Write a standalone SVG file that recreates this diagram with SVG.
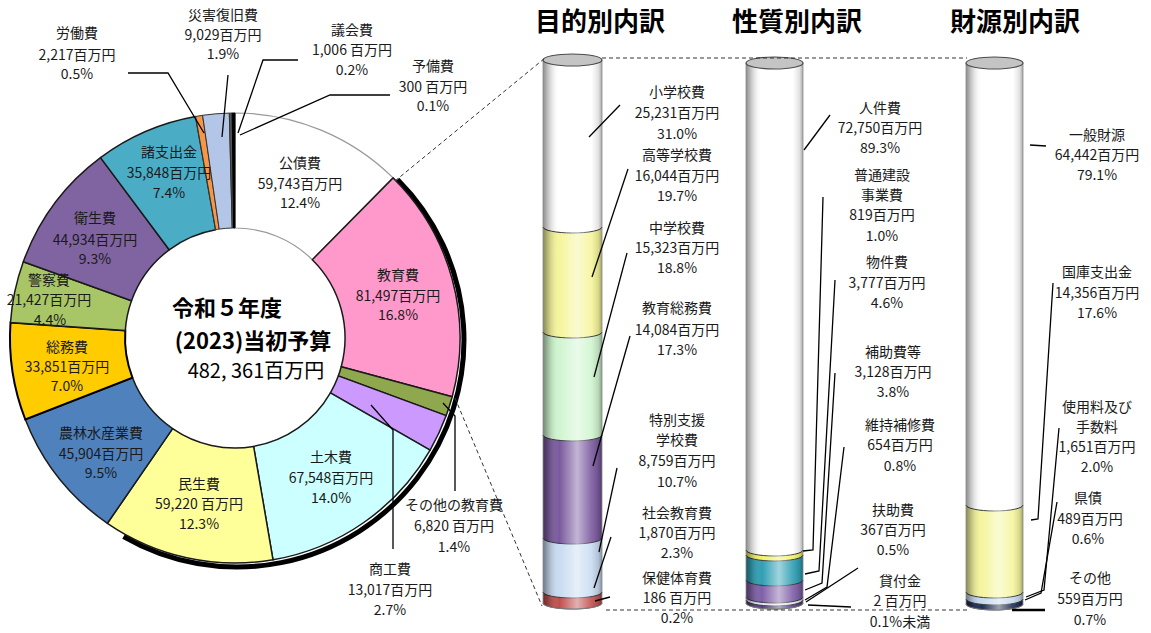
<svg xmlns="http://www.w3.org/2000/svg" width="1151" height="633" viewBox="0 0 1151 633">
<defs>
<linearGradient id="shade" x1="0" y1="0" x2="1" y2="0">
<stop offset="0" stop-color="#000" stop-opacity="0.45"/>
<stop offset="0.08" stop-color="#000" stop-opacity="0.25"/>
<stop offset="0.28" stop-color="#fff" stop-opacity="0"/>
<stop offset="0.58" stop-color="#fff" stop-opacity="0.55"/>
<stop offset="0.82" stop-color="#fff" stop-opacity="0.1"/>
<stop offset="0.94" stop-color="#000" stop-opacity="0.12"/>
<stop offset="1" stop-color="#000" stop-opacity="0.35"/>
</linearGradient>
</defs>
<style>
text{font-family:"Noto Sans CJK JP","Noto Sans",sans-serif;fill:#1a1a1a}
.lb{font-size:14px;text-anchor:middle}
.ttl{font-size:26px;font-weight:bold;fill:#000}
.sl{stroke:#1a1a1a;stroke-width:1.5;stroke-linejoin:round}
.ld{stroke:#000;stroke-width:1.3;fill:none}
.dash{stroke:#333;stroke-width:1;stroke-dasharray:4 3;fill:none}
.bnd{stroke:#333;stroke-width:1;fill:none}
.cap{fill:#c4c4c4;stroke:#4a4a4a;stroke-width:1.2}
.body{fill:url(#shade);stroke:#8a8a8a;stroke-width:0.8}
.ctr{text-anchor:middle;fill:#000}
</style>
<rect width="1151" height="633" fill="#fff"/>

<g id="donut">
<path d="M397.5,179.5 A227,227 0 0 1 123.5,536.6" fill="none" stroke="#000" stroke-width="5"/>
<g id="s-kosai"><path d="M235,113 A225,225 0 0 1 393.1,177.9 L312.3,259.7 A110,110 0 0 0 235,228 Z" fill="#fff" stroke="#999" stroke-width="1.2"/></g>
<g id="s-kyoiku"><path class="sl" d="M393.1,177.9 A225,225 0 0 1 452.2,396.7 L341.2,366.7 A110,110 0 0 0 312.3,259.7 Z" fill="#ff99cc"/></g>
<g id="s-sonota-kyoiku"><path class="sl" d="M452.2,396.7 A225,225 0 0 1 446.2,415.6 L338.3,375.9 A110,110 0 0 0 341.2,366.7 Z" fill="#8fa84e"/></g>
<g id="s-shoko"><path class="sl" d="M446.2,415.6 A225,225 0 0 1 430.1,450.1 L330.4,392.8 A110,110 0 0 0 338.3,375.9 Z" fill="#cc99ff"/></g>
<g id="s-doboku"><path class="sl" d="M430.1,450.1 A225,225 0 0 1 273,559.8 L253.6,446.4 A110,110 0 0 0 330.4,392.8 Z" fill="#ccffff"/></g>
<g id="s-minsei"><path class="sl" d="M273,559.8 A225,225 0 0 1 107.4,523.3 L172.6,428.6 A110,110 0 0 0 253.6,446.4 Z" fill="#ffff99"/></g>
<g id="s-norin"><path class="sl" d="M107.4,523.3 A225,225 0 0 1 25.3,419.5 L132.5,377.8 A110,110 0 0 0 172.6,428.6 Z" fill="#4f81bd"/></g>
<g id="s-somu"><path d="M25.3,419.5 A225,225 0 0 1 10.5,322.5 L125.3,330.4 A110,110 0 0 0 132.5,377.8 Z" fill="#ffcc00" stroke="#000" stroke-width="2"/></g>
<g id="s-keisatsu"><path class="sl" d="M10.5,322.5 A225,225 0 0 1 23.3,261.8 L131.5,300.7 A110,110 0 0 0 125.3,330.4 Z" fill="#a9c667"/></g>
<g id="s-eisei"><path class="sl" d="M23.3,261.8 A225,225 0 0 1 100.5,157.6 L169.2,249.8 A110,110 0 0 0 131.5,300.7 Z" fill="#8064a2"/></g>
<g id="s-shoshishutsu"><path class="sl" d="M100.5,157.6 A225,225 0 0 1 195.6,116.5 L215.7,229.7 A110,110 0 0 0 169.2,249.8 Z" fill="#4bacc6"/></g>
<g id="s-rodo"><path d="M195.6,116.5 A225,225 0 0 1 202.6,115.3 L219.2,229.1 A110,110 0 0 0 215.7,229.7 Z" fill="#f79646" stroke="#333" stroke-width="1"/></g>
<g id="s-saigai"><path d="M202.6,115.3 A225,225 0 0 1 229.3,113.1 L232.2,228 A110,110 0 0 0 219.2,229.1 Z" fill="#b4c6e7" stroke="#333" stroke-width="1"/></g>
<g id="s-gikai"><path d="M229.3,113.1 A225,225 0 0 1 232.2,113 L233.6,228 A110,110 0 0 0 232.2,228 Z" fill="#555" stroke="#333" stroke-width="1"/></g>
<g id="s-yobi"><path d="M232.2,113 A225,225 0 0 1 235,113 L235,228 A110,110 0 0 0 233.6,228 Z" fill="#000" stroke="#000" stroke-width="1"/></g>
</g>

<g id="center-text">
<text class="ctr" x="227" y="316" style="font-size:22px;font-weight:bold">令和５年度</text>
<text class="ctr" x="253" y="349" style="font-size:22px;font-weight:bold">(2023)当初予算</text>
<text class="ctr" x="256" y="378" style="font-size:20px">482, 361百万円</text>
</g>

<g id="donut-labels">
<g id="l-kosai"><text class="lb" x="300" y="168">公債費</text><text class="lb" x="300" y="189">59,743百万円</text><text class="lb" x="300" y="208">12.4%</text></g>
<g id="l-kyoiku"><text class="lb" x="398" y="280">教育費</text><text class="lb" x="398" y="301">81,497百万円</text><text class="lb" x="398" y="320">16.8%</text></g>
<g id="l-shoshishutsu"><text class="lb" x="169" y="157">諸支出金</text><text class="lb" x="169" y="178">35,848百万円</text><text class="lb" x="169" y="198">7.4%</text></g>
<g id="l-eisei"><text class="lb" x="95" y="223">衛生費</text><text class="lb" x="95" y="245">44,934百万円</text><text class="lb" x="95" y="264">9.3%</text></g>
<g id="l-keisatsu"><text class="lb" x="49" y="285">警察費</text><text class="lb" x="49" y="305">21,427百万円</text><text class="lb" x="50" y="325">4.4%</text></g>
<g id="l-somu"><text class="lb" x="67" y="352">総務費</text><text class="lb" x="67" y="372">33,851百万円</text><text class="lb" x="67" y="391">7.0%</text></g>
<g id="l-norin"><text class="lb" x="101" y="438">農林水産業費</text><text class="lb" x="101" y="459">45,904百万円</text><text class="lb" x="101" y="478">9.5%</text></g>
<g id="l-minsei"><text class="lb" x="199" y="489">民生費</text><text class="lb" x="199" y="509">59,220 百万円</text><text class="lb" x="199" y="529">12.3%</text></g>
<g id="l-doboku"><text class="lb" x="331" y="462">土木費</text><text class="lb" x="331" y="483">67,548百万円</text><text class="lb" x="331" y="503">14.0%</text></g>
<g id="l-sonota-kyoiku"><text class="lb" x="454" y="510">その他の教育費</text><text class="lb" x="454" y="531">6,820 百万円</text><text class="lb" x="454" y="552">1.4%</text></g>
<g id="l-shoko"><text class="lb" x="390" y="574">商工費</text><text class="lb" x="390" y="595">13,017百万円</text><text class="lb" x="390" y="615">2.7%</text></g>
<g id="l-rodo"><text class="lb" x="77" y="38">労働費</text><text class="lb" x="77" y="60">2,217百万円</text><text class="lb" x="77" y="79">0.5%</text></g>
<g id="l-saigai"><text class="lb" x="223" y="20">災害復旧費</text><text class="lb" x="223" y="40">9,029百万円</text><text class="lb" x="223" y="59">1.9%</text></g>
<g id="l-gikai"><text class="lb" x="352" y="35">議会費</text><text class="lb" x="352" y="55">1,006 百万円</text><text class="lb" x="352" y="75">0.2%</text></g>
<g id="l-yobi"><text class="lb" x="433" y="71">予備費</text><text class="lb" x="433" y="92">300 百万円</text><text class="lb" x="433" y="111">0.1%</text></g>
</g>

<g id="titles">
<text class="ttl" x="535" y="31">目的別内訳</text>
<text class="ttl" x="732" y="31">性質別内訳</text>
<text class="ttl" x="950" y="31">財源別内訳</text>
</g>

<g id="cyl-purpose">
<path d="M543,592 L543,603 A29.5,6 0 0 0 602,603 L602,592 Z" fill="#c0504d"/>
<path d="M543,538 L543,592 A29.5,6 0 0 0 602,592 L602,538 Z" fill="#c9dbf1"/>
<path d="M543,435 L543,538 A29.5,6 0 0 0 602,538 L602,435 Z" fill="#7a5a9e"/>
<path d="M543,332 L543,435 A29.5,6 0 0 0 602,435 L602,332 Z" fill="#d0f5d0"/>
<path d="M543,227 L543,332 A29.5,6 0 0 0 602,332 L602,227 Z" fill="#f5f59c"/>
<path d="M543,60 L543,227 A29.5,6 0 0 0 602,227 L602,60 Z" fill="#fff"/>
<path class="bnd" d="M543,227 A29.5,6 0 0 0 602,227 M543,332 A29.5,6 0 0 0 602,332 M543,435 A29.5,6 0 0 0 602,435 M543,538 A29.5,6 0 0 0 602,538 M543,592 A29.5,6 0 0 0 602,592 M543,603 A29.5,6 0 0 0 602,603"/>
<path class="body" d="M543,60 L543,603 A29.5,6 0 0 0 602,603 L602,60 Z"/>
<ellipse class="cap" cx="572.5" cy="60" rx="29.5" ry="6"/>
</g>

<g id="cyl-nature">
<path d="M746,600 L746,603 A28.5,6 0 0 0 803,603 L803,600 Z" fill="#5a3d85"/>
<path d="M746,597 L746,600 A28.5,6 0 0 0 803,600 L803,597 Z" fill="#dce6f2"/>
<path d="M746,580 L746,597 A28.5,6 0 0 0 803,597 L803,580 Z" fill="#7f5fa8"/>
<path d="M746,555 L746,580 A28.5,6 0 0 0 803,580 L803,555 Z" fill="#2f9fb3"/>
<path d="M746,552 L746,555 A28.5,6 0 0 0 803,555 L803,552 Z" fill="#f2f266"/>
<path d="M746,63 L746,550 A28.5,6 0 0 0 803,550 L803,63 Z" fill="#fff"/>
<path class="bnd" d="M746,550 A28.5,6 0 0 0 803,550 M746,555 A28.5,6 0 0 0 803,555 M746,580 A28.5,6 0 0 0 803,580 M746,597 A28.5,6 0 0 0 803,597 M746,600 A28.5,6 0 0 0 803,600 M746,603 A28.5,6 0 0 0 803,603"/>
<path class="body" d="M746,63 L746,603 A28.5,6 0 0 0 803,603 L803,63 Z"/>
<ellipse class="cap" cx="774.5" cy="63" rx="28.5" ry="6"/>
</g>

<g id="cyl-source">
<path d="M966,599 L966,604 A28.5,6 0 0 0 1023,604 L1023,599 Z" fill="#1f2d55"/>
<path d="M966,592 L966,599 A28.5,6 0 0 0 1023,599 L1023,592 Z" fill="#c6d9f0"/>
<path d="M966,505 L966,592 A28.5,6 0 0 0 1023,592 L1023,505 Z" fill="#f5f59f"/>
<path d="M966,63 L966,505 A28.5,6 0 0 0 1023,505 L1023,63 Z" fill="#fff"/>
<path class="bnd" d="M966,505 A28.5,6 0 0 0 1023,505 M966,592 A28.5,6 0 0 0 1023,592 M966,599 A28.5,6 0 0 0 1023,599 M966,604 A28.5,6 0 0 0 1023,604"/>
<path class="body" d="M966,63 L966,604 A28.5,6 0 0 0 1023,604 L1023,63 Z"/>
<ellipse class="cap" cx="994.5" cy="63" rx="28.5" ry="6"/>
</g>

<g id="cyl-labels">
<g id="l-shogakko"><text class="lb" x="677" y="97">小学校費</text><text class="lb" x="677" y="118">25,231百万円</text><text class="lb" x="677" y="139">31.0%</text></g>
<g id="l-koto"><text class="lb" x="677" y="160">高等学校費</text><text class="lb" x="677" y="181">16,044百万円</text><text class="lb" x="677" y="201">19.7%</text></g>
<g id="l-chugakko"><text class="lb" x="677" y="233">中学校費</text><text class="lb" x="677" y="253">15,323百万円</text><text class="lb" x="677" y="273">18.8%</text></g>
<g id="l-somu2"><text class="lb" x="677" y="313">教育総務費</text><text class="lb" x="677" y="335">14,084百万円</text><text class="lb" x="677" y="355">17.3%</text></g>
<g id="l-tokubetsu"><text class="lb" x="677" y="425">特別支援</text><text class="lb" x="677" y="445">学校費</text><text class="lb" x="677" y="466">8,759百万円</text><text class="lb" x="677" y="487">10.7%</text></g>
<g id="l-shakai"><text class="lb" x="677" y="518">社会教育費</text><text class="lb" x="677" y="538">1,870百万円</text><text class="lb" x="677" y="558">2.3%</text></g>
<g id="l-hoken"><text class="lb" x="677" y="583">保健体育費</text><text class="lb" x="677" y="603">186 百万円</text><text class="lb" x="677" y="623">0.2%</text></g>

<g id="l-jinken"><text class="lb" x="880" y="113">人件費</text><text class="lb" x="880" y="133">72,750百万円</text><text class="lb" x="880" y="153">89.3%</text></g>
<g id="l-futsu"><text class="lb" x="882" y="180">普通建設</text><text class="lb" x="882" y="200">事業費</text><text class="lb" x="882" y="220">819百万円</text><text class="lb" x="882" y="241">1.0%</text></g>
<g id="l-bukken"><text class="lb" x="887" y="267">物件費</text><text class="lb" x="887" y="288">3,777百万円</text><text class="lb" x="887" y="308">4.6%</text></g>
<g id="l-hojo"><text class="lb" x="893" y="357">補助費等</text><text class="lb" x="893" y="377">3,128百万円</text><text class="lb" x="893" y="397">3.8%</text></g>
<g id="l-iji"><text class="lb" x="900" y="430">維持補修費</text><text class="lb" x="900" y="450">654百万円</text><text class="lb" x="900" y="471">0.8%</text></g>
<g id="l-fujo"><text class="lb" x="893" y="515">扶助費</text><text class="lb" x="893" y="535">367百万円</text><text class="lb" x="893" y="555">0.5%</text></g>
<g id="l-kashitsuke"><text class="lb" x="900" y="586">貸付金</text><text class="lb" x="900" y="606">2 百万円</text><text class="lb" x="900" y="627">0.1%未満</text></g>

<g id="l-ippan"><text class="lb" x="1097" y="140">一般財源</text><text class="lb" x="1097" y="160">64,442百万円</text><text class="lb" x="1097" y="180">79.1%</text></g>
<g id="l-kokko"><text class="lb" x="1097" y="277">国庫支出金</text><text class="lb" x="1097" y="298">14,356百万円</text><text class="lb" x="1097" y="318">17.6%</text></g>
<g id="l-shiyoryo"><text class="lb" x="1097" y="412">使用料及び</text><text class="lb" x="1097" y="432">手数料</text><text class="lb" x="1097" y="452">1,651百万円</text><text class="lb" x="1097" y="472">2.0%</text></g>
<g id="l-kensai"><text class="lb" x="1088" y="503">県債</text><text class="lb" x="1090" y="524">489百万円</text><text class="lb" x="1088" y="544">0.6%</text></g>
<g id="l-sonota"><text class="lb" x="1090" y="583">その他</text><text class="lb" x="1090" y="604">559百万円</text><text class="lb" x="1090" y="625">0.7%</text></g>
</g>

<g id="connectors">
<path class="dash" d="M395,181 L545,58"/>
<path class="dash" d="M602,58 L967,58"/>
<path class="dash" d="M455,398 L542,606"/>
<path class="dash" d="M606,610 L967,610"/>
<path class="ld" d="M128,73 L168,73 L204,133"/>
<path class="ld" d="M228,75 L222,137"/>
<path class="ld" d="M298,60 L263,60 L238,133"/>
<path class="ld" d="M390,95 L330,95 L240,135"/>
<path class="ld" d="M443,403 L455,416 L455,491"/>
<path class="ld" d="M371,405 L393,430 L393,549"/>
<path class="ld" d="M620,105 L589,137"/>
<path class="ld" d="M628,169 L592,277"/>
<path class="ld" d="M627,253 L594,377"/>
<path class="ld" d="M630,336 L593,466"/>
<path class="ld" d="M617,468 L599,552"/>
<path class="ld" d="M611,537 L594,588"/>
<path class="ld" d="M610,597 L595,601"/>
<path class="ld" d="M830,115 L804,150"/>
<path class="ld" d="M823,197 L813,550 L803,551"/>
<path class="ld" d="M835,280 L819,571 L805,574"/>
<path class="ld" d="M835,373 L822,583 L805,590"/>
<path class="ld" d="M844,447 L827,587 L805,600"/>
<path class="ld" d="M858,568 L806,602"/>
<path class="ld" d="M808,605 L851,607"/>
<path class="ld" d="M1030,145 L1046,146"/>
<path class="ld" d="M1053,283 L1038,519 L1031,520"/>
<path class="ld" d="M1059,428 L1044,590 L1026,597"/>
<path class="ld" d="M1057,502 L1041,593 L1025,600"/>
<path d="M1012,610 L1045,610" stroke="#000" stroke-width="2.5"/>
</g>
</svg>
